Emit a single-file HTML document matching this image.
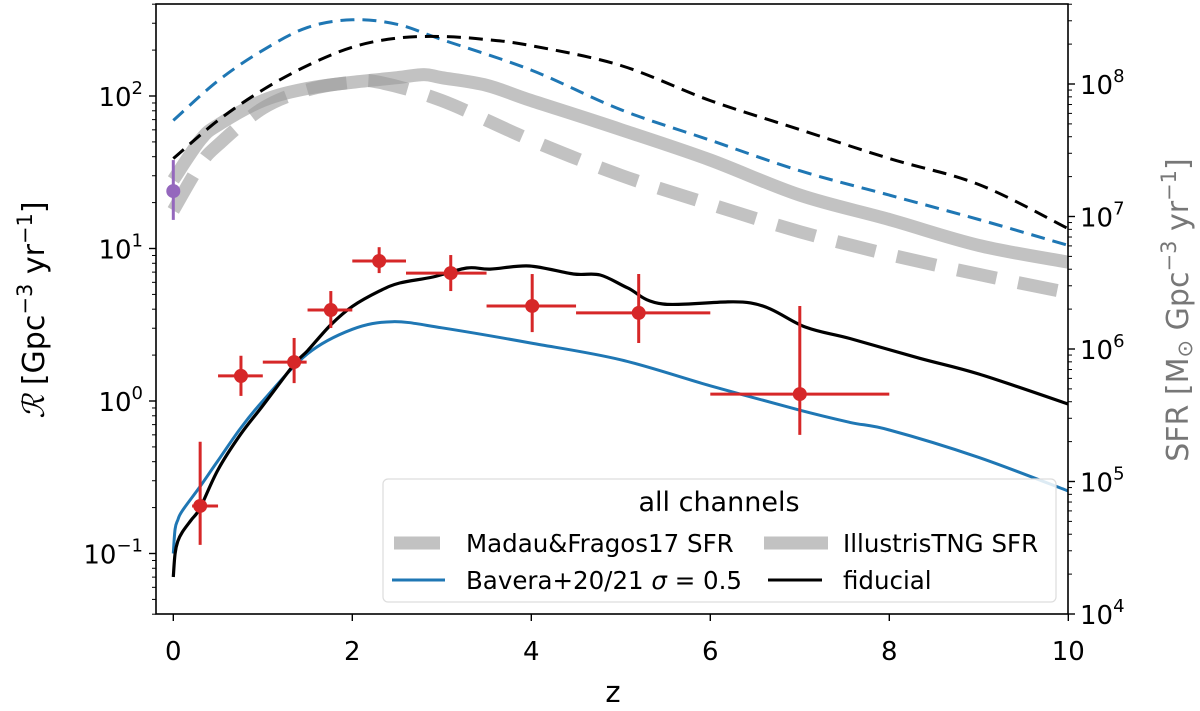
<!DOCTYPE html>
<html><head><meta charset="utf-8">
<style>
html,body{margin:0;padding:0;background:#fff;}
svg{display:block;font-family:"DejaVu Sans","Liberation Sans",sans-serif;}
</style></head>
<body>
<svg id="chart" width="1200" height="711" viewBox="0 0 1200 711"></svg>
<script>
// ---- data ----
const fidZ = [0,0.02,0.05,0.1,0.2,0.3,0.5,0.75,1.0,1.35,1.5,1.76,2.0,2.3,2.53,2.9,3.28,3.54,3.98,4.47,4.77,5.08,5.47,6.45,7.06,7.56,8.34,9.0,10.0];
const fidLogR = [-1.154,-1.0,-0.92,-0.86,-0.78,-0.70,-0.45,-0.22,-0.03,0.24,0.33,0.50,0.62,0.72,0.774,0.813,0.872,0.865,0.885,0.833,0.826,0.74,0.636,0.643,0.485,0.41,0.28,0.177,-0.02];
const bavZ = [0,0.02,0.05,0.1,0.3,0.5,0.75,1.0,1.5,2.0,2.45,3.0,4.0,5.0,6.0,7.0,7.56,8.0,9.0,10.0];
const bavLogR = [-1.0,-0.84,-0.78,-0.72,-0.56,-0.39,-0.18,0.0,0.31,0.47,0.52,0.48,0.38,0.27,0.1,-0.06,-0.14,-0.19,-0.37,-0.59];
const dashBlueZ = [0,0.5,1,1.5,2,2.5,3,4,5,6,7,8,9,10];
const dashBlueLog = [1.84,2.1,2.3,2.45,2.5,2.47,2.37,2.17,1.91,1.71,1.51,1.35,1.19,1.02];
const dashBlackZ = [0,0.5,1,1.5,2,2.5,3,3.5,4,5,6,7,8,9,10];
const dashBlackLog = [1.59,1.84,2.04,2.2,2.32,2.38,2.39,2.37,2.33,2.2,1.97,1.78,1.59,1.42,1.13];
const tngZ = [0,0.3,0.5,1,1.5,2,2.5,2.8,3,3.5,4,5,6,7,8,9,10];
const tngLog = [1.45,1.71,1.81,1.97,2.05,2.09,2.12,2.14,2.12,2.07,1.97,1.78,1.58,1.35,1.19,1.02,0.91];
const madZ = [0,0.3,0.5,1,1.5,2,2.3,3,4,5,6,7,8,9,10];
const madLog = [1.25,1.55,1.68,1.92,2.04,2.09,2.09,1.97,1.71,1.48,1.29,1.11,0.96,0.83,0.71];
const obsZ = [0.30,0.756,1.35,1.76,2.30,3.10,4.01,5.20,7.0];
const obsZlo = [0.21,0.50,1.0,1.5,2.0,2.6,3.5,4.5,6.0];
const obsZhi = [0.50,1.0,1.49,2.0,2.6,3.5,4.5,6.0,8.0];
const obsR = [0.205,1.46,1.80,3.95,8.28,6.9,4.2,3.78,1.11];
const obsRlo = [0.114,1.08,1.31,3.01,6.9,5.26,2.83,2.4,0.60];
const obsRhi = [0.54,1.98,2.59,5.26,10.2,9.06,6.8,6.8,4.2];
const localZ = [0];
const localR = [23.8];
const localRlo = [15.4];
const localRhi = [38];
const xTicks = [0,2,4,6,8,10];
const yLeftExp = [-1,0,1,2];
const yRightExp = [4,5,6,7,8];

// ---- axes ----
const L=156, R=1068, T=4, B=614;
const X = z => 173.3 + z*89.5;
const YL = v => 96 - (Math.log10(v)-2)*152.5;
const YLlog = l => 96 - (l-2)*152.5;
const YR = v => 84 + (8-Math.log10(v))*132.5;
const NS="http://www.w3.org/2000/svg";
const svg=document.getElementById('chart');
function mk(tag,attrs,parent){const e=document.createElementNS(NS,tag);for(const k in attrs)e.setAttribute(k,attrs[k]);(parent||svg).appendChild(e);return e;}

const defs=mk('defs',{});
const cp=mk('clipPath',{id:'clip'},defs);
mk('rect',{x:L,y:T,width:R-L,height:B-T},cp);
const plot=mk('g',{'clip-path':'url(#clip)'});



function smoothPath(pts){
  let d='M'+pts[0][0].toFixed(1)+' '+pts[0][1].toFixed(1);
  for(let i=0;i<pts.length-1;i++){
    const p0=pts[Math.max(0,i-1)],p1=pts[i],p2=pts[i+1],p3=pts[Math.min(pts.length-1,i+2)];
    const c1=[p1[0]+(p2[0]-p0[0])/6,p1[1]+(p2[1]-p0[1])/6];
    const c2=[p2[0]-(p3[0]-p1[0])/6,p2[1]-(p3[1]-p1[1])/6];
    d+=' C'+c1[0].toFixed(1)+' '+c1[1].toFixed(1)+' '+c2[0].toFixed(1)+' '+c2[1].toFixed(1)+' '+p2[0].toFixed(1)+' '+p2[1].toFixed(1);
  }
  return d;
}
function line(zs,ls,style,name,smooth){
  const pts=zs.map((z,i)=>[X(z),YLlog(ls[i])]);
  const d=smooth?smoothPath(pts):pts.map((p,i)=>(i?'L':'M')+p[0].toFixed(1)+' '+p[1].toFixed(1)).join(' ');
  const p=mk('path',Object.assign({d:d,fill:'none','stroke-linejoin':'round'},style),plot);
  
  
}
line(madZ,madLog,{stroke:'#999','stroke-opacity':0.6,'stroke-width':13,'stroke-dasharray':'40 22'},'madau-fragos-sfr-line',true);
line(tngZ,tngLog,{stroke:'#999','stroke-opacity':0.6,'stroke-width':13},'illustris-tng-sfr-line',true);
line(dashBlueZ,dashBlueLog,{stroke:'#1f77b4','stroke-width':3,'stroke-dasharray':'14 8'},'bavera-sfr-dashed-line',true);
line(dashBlackZ,dashBlackLog,{stroke:'#000','stroke-width':3,'stroke-dasharray':'14 8'},'fiducial-sfr-dashed-line',true);
line(bavZ,bavLogR,{stroke:'#1f77b4','stroke-width':3},'bavera-rate-line',true);
line(fidZ,fidLogR,{stroke:'#000','stroke-width':3.2},'fiducial-rate-line',true);

for(let i=0;i<obsZ.length;i++){
  const g=mk('g',{stroke:'#d62728','stroke-width':3},plot);
  
  
  mk('line',{x1:X(obsZlo[i]),x2:X(obsZhi[i]),y1:YL(obsR[i]),y2:YL(obsR[i])},g);
  mk('line',{x1:X(obsZ[i]),x2:X(obsZ[i]),y1:YL(obsRlo[i]),y2:YL(obsRhi[i])},g);
  mk('circle',{cx:X(obsZ[i]),cy:YL(obsR[i]),r:7,fill:'#d62728',stroke:'none'},g);
}
for(let i=0;i<localZ.length;i++){
  const g=mk('g',{stroke:'#9467bd','stroke-width':3},plot);
  
  
  mk('line',{x1:X(localZ[i]),x2:X(localZ[i]),y1:YL(localRlo[i]),y2:YL(localRhi[i])},g);
  mk('circle',{cx:X(localZ[i]),cy:YL(localR[i]),r:7,fill:'#9467bd',stroke:'none'},g);
}

// spines
const frame=mk('rect',{x:L,y:T,width:R-L,height:B-T,fill:'none',stroke:'#000','stroke-width':1.6});



// x ticks
xTicks.forEach(z=>{
  mk('line',{x1:X(z),x2:X(z),y1:B,y2:B+7,stroke:'#000','stroke-width':1.4});
  const t=mk('text',{x:X(z),y:660,'font-size':26,'text-anchor':'middle'});
  t.textContent=String(z);
  
  
});
const xl=mk('text',{x:613,y:702,'font-size':29,'text-anchor':'middle'});
xl.textContent='z';



// left y ticks
for(let e=-2;e<=2;e++){
  for(let m=1;m<10;m++){
    const y=YL(m*Math.pow(10,e));
    if(y<T-0.5||y>B+0.5)continue;
    mk('line',{x1:L,x2:L-(m===1?7:4),y1:y,y2:y,stroke:'#000','stroke-width':m===1?1.4:1});
  }
}
yLeftExp.forEach(e=>{
  const t=mk('text',{x:143,y:YL(Math.pow(10,e))+10,'font-size':26,'text-anchor':'end'});
  t.innerHTML='10<tspan dy="-12" font-size="18">'+(e<0?'\u2212'+(-e):e)+'</tspan>';
  
  
});
// right y ticks
for(let e=3;e<=8;e++){
  for(let m=1;m<10;m++){
    const y=YR(m*Math.pow(10,e));
    if(y<T-0.5||y>B+0.5)continue;
    mk('line',{x1:R,x2:R+(m===1?7:4),y1:y,y2:y,stroke:'#000','stroke-width':m===1?1.4:1});
  }
}
yRightExp.forEach(e=>{
  const t=mk('text',{x:1080,y:YR(Math.pow(10,e))+10,'font-size':26});
  t.innerHTML='10<tspan dy="-12" font-size="18">'+e+'</tspan>';
  
  
});

const yl=mk('text',{transform:'translate(44,310) rotate(-90)','font-size':30,'text-anchor':'middle'});
yl.innerHTML='<tspan font-family="Liberation Serif,serif" font-style="italic">ℛ</tspan>  [Gpc<tspan dy="-12" font-size="21">\u22123</tspan><tspan dy="12"> yr</tspan><tspan dy="-12" font-size="21">\u22121</tspan><tspan dy="12">]</tspan>';


const yr=mk('text',{transform:'translate(1188,310) rotate(-90)','font-size':30,'text-anchor':'middle',fill:'#777'});
yr.innerHTML='SFR  [M<tspan dy="4" font-size="21">\u2299</tspan><tspan dy="-4"> Gpc</tspan><tspan dy="-12" font-size="21">\u22123</tspan><tspan dy="12"> yr</tspan><tspan dy="-12" font-size="21">\u22121</tspan><tspan dy="12">]</tspan>';



// legend
const lg=mk('g',{});


mk('rect',{x:383,y:479,width:673,height:123,rx:5,fill:'#fff','fill-opacity':0.85,stroke:'#ddd','stroke-width':1.2},lg);
const lt=mk('text',{x:719,y:511,'font-size':27,'text-anchor':'middle'},lg);
lt.textContent='all channels';


function entry(x1,x2,y,style,label,tx,name){
  const g=mk('g',{},lg);
  
  
  mk('line',Object.assign({x1:x1,x2:x2,y1:y,y2:y},style),g);
  const t=mk('text',{x:tx,y:y+9,'font-size':24.5},g);
  t.innerHTML=label;
}
entry(394,440,543,{stroke:'#999','stroke-opacity':0.6,'stroke-width':13},'Madau&amp;Fragos17 SFR',466,'legend-entry-madau');
entry(764,828,543,{stroke:'#999','stroke-opacity':0.6,'stroke-width':13},'IllustrisTNG SFR',843,'legend-entry-illustris');
entry(392,445,580,{stroke:'#1f77b4','stroke-width':3},'Bavera+20/21 <tspan font-style="italic">σ</tspan> = 0.5',466,'legend-entry-bavera');
entry(768,822,580,{stroke:'#000','stroke-width':3},'fiducial',843,'legend-entry-fiducial');
</script>
</body></html>
